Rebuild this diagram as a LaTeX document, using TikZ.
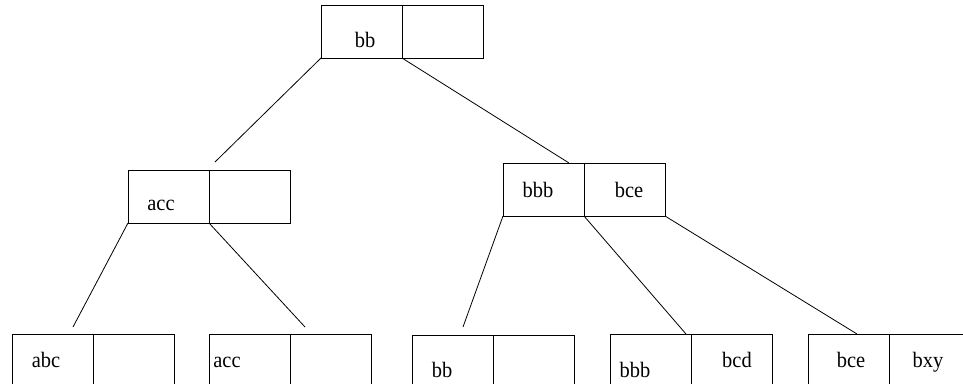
\documentclass[tikz,border=0pt]{standalone}
\usepackage{fontspec}
\setmainfont[FakeStretch=0.93]{Liberation Serif}
\usetikzlibrary{calc}
\begin{document}
\begin{tikzpicture}[x=1pt,y=-1pt,
  half/.style={draw,line width=0.8pt,minimum width=81pt,minimum height=53pt,inner sep=0pt,anchor=north west,outer sep=0pt},
  key/.style={anchor=base,inner sep=0pt,font=\fontsize{22}{22}\selectfont},
  link/.style={line width=0.8pt}]
\useasboundingbox (0,0) rectangle (963,383);
\clip (0,0) rectangle (963,383);
% root
\node[half] (rootL) at (321,5) {};
\node[half] (rootR) at (402,5) {};
% level 1
\node[half] (accL) at (128,170) {};
\node[half] (accR) at (209,170) {};
\node[half] (bbbL) at (503,163) {};
\node[half] (bbbR) at (584,163) {};
% leaves
\node[half] (l1L) at (12,334) {};
\node[half] (l1R) at (93,334) {};
\node[half] (l2L) at (209,334) {};
\node[half] (l2R) at (290,334) {};
\node[half] (l3L) at (412,335) {};
\node[half] (l3R) at (493,335) {};
\node[half] (l4L) at (610,334) {};
\node[half] (l4R) at (691,334) {};
\node[half] (l5L) at (808,334) {};
\node[half] (l5R) at (889,334) {};
% texts
\node[key] (t0) at (365,47) {bb};
\node[key] (t1) at (161,210) {acc};
\node[key] (t2) at (538,197) {bbb};
\node[key] (t3) at (629,197) {bce};
\node[key] (t4) at (46,367) {abc};
\node[key] (t5) at (227,367) {acc};
\node[key] (t6) at (442,377) {bb};
\node[key] (t7) at (635,377) {bbb};
\node[key] (t8) at (737,367) {bcd};
\node[key] (t9) at (851,367) {bce};
\node[key] (t10) at (928,367) {bxy};
% free ends
\coordinate (e1) at (215,162);
\coordinate (e2) at (73,327);
\coordinate (e3) at (305,327);
\coordinate (e4) at (463,327);
% connectors
\draw[link] (rootL.south west) -- (e1);
\draw[link] (rootR.south west) -- ($(bbbR.north west)+(-15,0)$);
\draw[link] (accL.south west) -- (e2);
\draw[link] (accR.south west) -- (e3);
\draw[link] (bbbL.south west) -- (e4);
\draw[link] (bbbR.south west) -- ($(l4L.north east)+(-5,0)$);
\draw[link] (bbbR.south east) -- ($(l5L.north east)+(-32,0)$);
\end{tikzpicture}
\end{document}
